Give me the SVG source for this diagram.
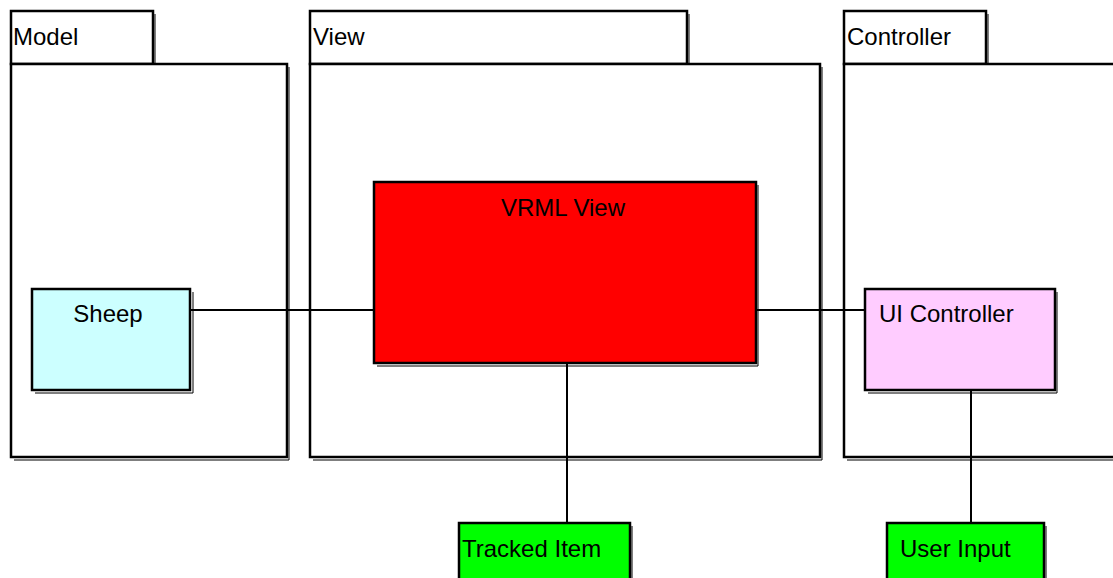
<svg xmlns="http://www.w3.org/2000/svg" width="1113" height="578" viewBox="0 0 1113 578">
  <style>
    .box { stroke: #000; stroke-width: 2.5; }
    .shadow { fill: none; stroke: #000; stroke-width: 1; }
    .line { fill: none; stroke: #000; stroke-width: 2; }
    text { font-family: "Liberation Sans", Arial, sans-serif; font-size: 24px; fill: #000; }
  </style>
  <rect width="1113" height="578" fill="#fff"/>

  <!-- packages -->
  <g id="pkg-model">
    <path class="shadow" d="M155 14 V64 M289 67 V460 H14"/>
    <rect class="box" x="11" y="11" width="142" height="53" fill="#fff"/>
    <rect class="box" x="11" y="64" width="276" height="393" fill="#fff"/>
    <text x="13" y="45">Model</text>
  </g>
  <g id="pkg-view">
    <path class="shadow" d="M689 14 V64 M822 67 V460 H313"/>
    <rect class="box" x="310" y="11" width="377" height="53" fill="#fff"/>
    <rect class="box" x="310" y="64" width="510" height="393" fill="#fff"/>
    <text x="313" y="45">View</text>
  </g>
  <g id="pkg-controller">
    <path class="shadow" d="M988 14 V64 M1113 460 H847"/>
    <rect class="box" x="844" y="11" width="142" height="53" fill="#fff"/>
    <rect class="box" x="844" y="64" width="290" height="393" fill="#fff"/>
    <text x="847" y="45">Controller</text>
  </g>

  <!-- connectors -->
  <g id="connectors">
    <path class="line" d="M191 310 H374"/>
    <path class="line" d="M756 310 H865"/>
    <path class="line" d="M567 363 V523"/>
    <path class="line" d="M971 390 V523"/>
  </g>

  <!-- classes -->
  <g id="sheep">
    <path class="shadow" d="M193 292 V393 H35"/>
    <rect class="box" x="32" y="289" width="158" height="101" fill="#ccffff"/>
    <text x="108" y="322" text-anchor="middle">Sheep</text>
  </g>
  <g id="vrml-view">
    <path class="shadow" d="M758 185 V366 H377"/>
    <rect class="box" x="374" y="182" width="382" height="181" fill="#ff0000"/>
    <text x="563" y="216" text-anchor="middle">VRML View</text>
  </g>
  <g id="ui-controller">
    <path class="shadow" d="M1057 292 V393 H868"/>
    <rect class="box" x="865" y="289" width="190" height="101" fill="#ffccff"/>
    <text x="879" y="322">UI Controller</text>
  </g>
  <g id="tracked-item">
    <path class="shadow" d="M632 526 V578"/>
    <rect class="box" x="459" y="523" width="171" height="60" fill="#00ff00"/>
    <text x="462" y="557">Tracked Item</text>
  </g>
  <g id="user-input">
    <path class="shadow" d="M1046 526 V578"/>
    <rect class="box" x="887" y="523" width="157" height="60" fill="#00ff00"/>
    <text x="900" y="557">User Input</text>
  </g>
</svg>
